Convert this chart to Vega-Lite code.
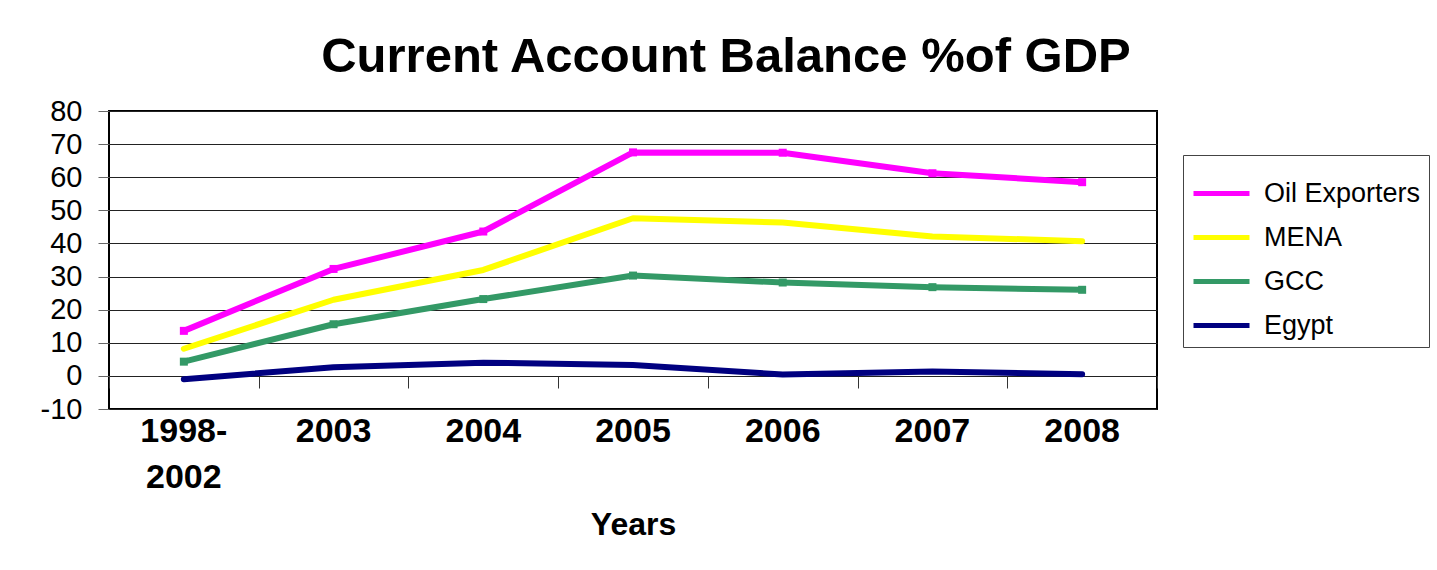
{
  "$schema": "https://vega.github.io/schema/vega-lite/v6.json",
  "autosize": {"type": "none"},
  "width": 1048,
  "height": 298,
  "padding": {"left": 109, "top": 111, "right": 280, "bottom": 161},
  "background": "white",
  "title": {
    "text": "Current Account Balance %of GDP",
    "font": "Liberation Sans",
    "fontSize": 49,
    "fontWeight": "bold",
    "color": "black",
    "anchor": "middle",
    "dx": 93,
    "baseline": "alphabetic",
    "offset": -24
  },
  "config": {
    "view": {"stroke": "black", "strokeWidth": 2},
    "font": "Liberation Sans"
  },
  "data": {
    "values": [
      {"year": "1998-2002", "region": "Oil Exporters", "value": 13.6},
      {"year": "2003", "region": "Oil Exporters", "value": 32.3},
      {"year": "2004", "region": "Oil Exporters", "value": 43.6},
      {"year": "2005", "region": "Oil Exporters", "value": 67.5},
      {"year": "2006", "region": "Oil Exporters", "value": 67.4},
      {"year": "2007", "region": "Oil Exporters", "value": 61.2},
      {"year": "2008", "region": "Oil Exporters", "value": 58.5},
      {"year": "1998-2002", "region": "MENA", "value": 8.2},
      {"year": "2003", "region": "MENA", "value": 23.0},
      {"year": "2004", "region": "MENA", "value": 32.0},
      {"year": "2005", "region": "MENA", "value": 47.6},
      {"year": "2006", "region": "MENA", "value": 46.3},
      {"year": "2007", "region": "MENA", "value": 42.1},
      {"year": "2008", "region": "MENA", "value": 40.7},
      {"year": "1998-2002", "region": "GCC", "value": 4.3},
      {"year": "2003", "region": "GCC", "value": 15.6},
      {"year": "2004", "region": "GCC", "value": 23.2},
      {"year": "2005", "region": "GCC", "value": 30.3},
      {"year": "2006", "region": "GCC", "value": 28.2},
      {"year": "2007", "region": "GCC", "value": 26.8},
      {"year": "2008", "region": "GCC", "value": 26.0},
      {"year": "1998-2002", "region": "Egypt", "value": -1.0},
      {"year": "2003", "region": "Egypt", "value": 2.6},
      {"year": "2004", "region": "Egypt", "value": 4.0},
      {"year": "2005", "region": "Egypt", "value": 3.3},
      {"year": "2006", "region": "Egypt", "value": 0.4},
      {"year": "2007", "region": "Egypt", "value": 1.3},
      {"year": "2008", "region": "Egypt", "value": 0.5}
    ]
  },
  "resolve": {"axis": {"x": "independent"}},
  "layer": [
    {
      "mark": {"type": "line", "strokeWidth": 6, "strokeCap": "round", "strokeJoin": "round"},
      "encoding": {
        "x": {
          "field": "year", "type": "ordinal", "sort": null,
          "scale": {"paddingInner": 0, "paddingOuter": 0},
          "axis": {
            "orient": "bottom",
            "title": "Years", "titleFontSize": 32, "titleFontWeight": "bold", "titleColor": "black",
            "titlePadding": 15,
            "domain": false, "ticks": false,
            "labelAngle": 0, "labelFontSize": 34, "labelFontWeight": "bold", "labelColor": "black",
            "labelPadding": 5, "labelLineHeight": 46,
            "labelExpr": "datum.value == '1998-2002' ? ['1998-', '2002'] : datum.label"
          }
        },
        "y": {
          "field": "value", "type": "quantitative",
          "scale": {"domain": [-10, 80], "nice": false, "zero": false},
          "axis": {
            "title": null, "values": [-10, 0, 10, 20, 30, 40, 50, 60, 70, 80],
            "labelOverlap": false, "labelExpr": "'' + datum.value",
            "domain": false, "grid": true, "gridColor": "#222", "gridWidth": 1, "gridOpacity": 1,
            "tickColor": "#666", "tickSize": 11, "labelPadding": 16,
            "labelFontSize": 29, "labelColor": "black"
          }
        },
        "color": {
          "field": "region", "type": "nominal",
          "scale": {"domain": ["Oil Exporters", "MENA", "GCC", "Egypt"], "range": ["#FF00FF", "#FFFF00", "#339966", "#000080"]},
          "legend": {
            "title": null, "orient": "none", "legendX": 1074, "legendY": 44,
            "strokeColor": "#444", "fillColor": "white", "padding": 8,
            "symbolType": "stroke", "symbolSize": 3136, "symbolStrokeWidth": 5,
            "labelFontSize": 27, "labelColor": "black", "labelOffset": 12, "rowPadding": 0
          }
        }
      }
    },
    {
      "transform": [{"filter": "datum.region == 'Oil Exporters'"}],
      "mark": {"type": "square", "size": 64, "color": "#FF00FF", "opacity": 1},
      "encoding": {
        "x": {
          "field": "year", "type": "ordinal", "sort": null,
          "axis": {
            "orient": "bottom",
            "title": null, "labels": false, "domain": false, "ticks": true,
            "tickBand": "extent", "tickSize": 12, "tickColor": "#333", "offset": -33
          }
        },
        "y": {
          "field": "value", "type": "quantitative",
          "axis": {
            "title": null, "values": [-10, 0, 10, 20, 30, 40, 50, 60, 70, 80],
            "labelOverlap": false, "labelExpr": "'' + datum.value",
            "domain": false, "grid": true, "gridColor": "#222", "gridWidth": 1, "gridOpacity": 1,
            "tickColor": "#666", "tickSize": 11, "labelPadding": 16,
            "labelFontSize": 29, "labelColor": "black"
          }
        }
      }
    },
    {
      "transform": [{"filter": "datum.region == 'GCC'"}],
      "mark": {"type": "square", "size": 64, "color": "#339966", "opacity": 1},
      "encoding": {
        "x": {"field": "year", "type": "ordinal", "sort": null, "axis": null},
        "y": {
          "field": "value", "type": "quantitative",
          "axis": {
            "title": null, "values": [-10, 0, 10, 20, 30, 40, 50, 60, 70, 80],
            "labelOverlap": false, "labelExpr": "'' + datum.value",
            "domain": false, "grid": true, "gridColor": "#222", "gridWidth": 1, "gridOpacity": 1,
            "tickColor": "#666", "tickSize": 11, "labelPadding": 16,
            "labelFontSize": 29, "labelColor": "black"
          }
        }
      }
    }
  ]
}
